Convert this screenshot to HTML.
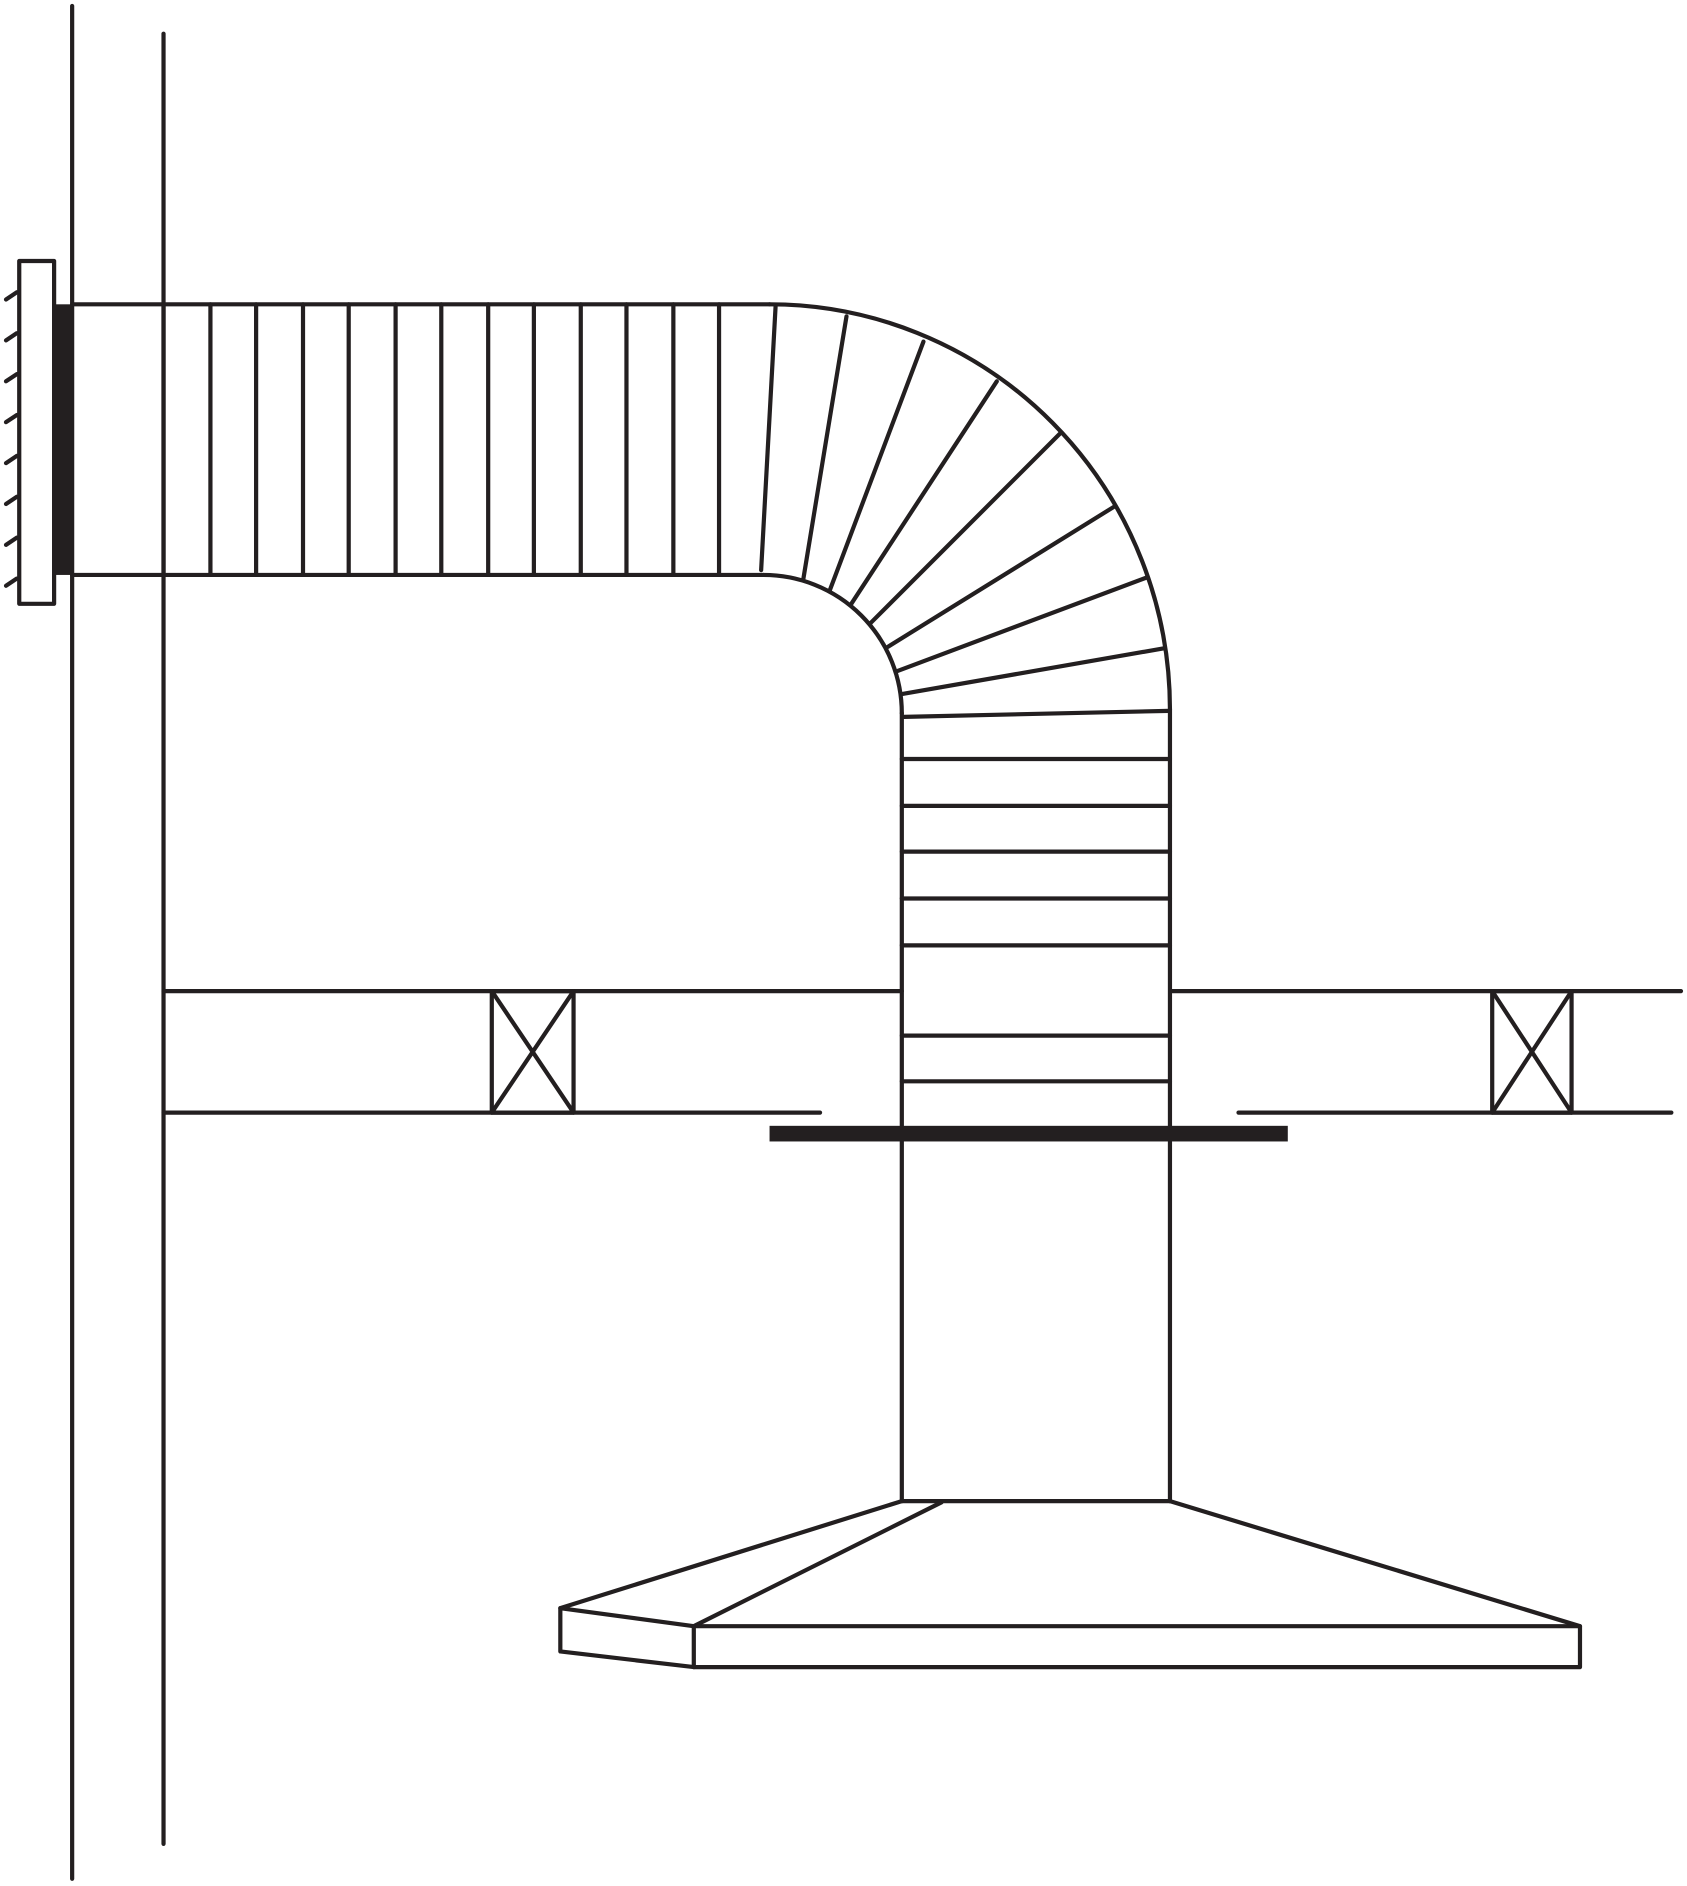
<!DOCTYPE html>
<html><head><meta charset="utf-8"><style>
html,body{margin:0;padding:0;background:#fff;}
svg{display:block;}
</style></head><body>
<svg width="1687" height="1886" viewBox="0 0 1403 1568" preserveAspectRatio="none" xmlns="http://www.w3.org/2000/svg">
<g stroke="#231f20" stroke-width="3.5" fill="none" stroke-linecap="round" stroke-linejoin="round">
<line x1="60" y1="5" x2="60" y2="1562"/>
<line x1="136" y1="28" x2="136" y2="1533"/>
<rect x="16" y="217" width="29" height="285" fill="#fff"/>
<path d="M5 249 L14 243 M5 283 L14 277 M5 317 L14 311 M5 351 L14 345 M5 385 L14 379 M5 419 L14 413 M5 453 L14 447 M5 487 L14 481"/>
<line x1="60" y1="253" x2="640" y2="253"/>
<line x1="60" y1="478" x2="635" y2="478"/>
<path d="M136 253V478 M175 253V478 M213 253V478 M252 253V478 M290 253V478 M329 253V478 M367 253V478 M406 253V478 M444 253V478 M483 253V478 M521 253V478 M560 253V478 M598 253V478"/>
<path d="M640 253 A333 337 0 0 1 973 590"/>
<path d="M635 478 A115 115 0 0 1 750 593"/>
<path d="M633 474L645 255 M668 482L704 263 M690 491L768 284 M708 502L829 317 M724 518L882 360 M738 538L927 421 M746 558L954 480 M750 577L968 539 M752 596L972 591"/>
<line x1="750" y1="593" x2="750" y2="1248"/>
<line x1="973" y1="590" x2="973" y2="1248"/>
<path d="M750 631H973 M750 670H973 M750 708H973 M750 747H973 M750 786H973 M750 861H973 M750 899H973"/>
<path d="M136 824H750 M975 824H1398 M136 925H682 M1030 925H1390"/>
<rect x="409" y="824" width="68" height="101"/>
<path d="M409 824L477 925 M477 824L409 925"/>
<rect x="1241" y="824" width="66" height="101"/>
<path d="M1241 824L1307 925 M1307 824L1241 925"/>
<line x1="750" y1="1248" x2="973" y2="1248"/>
<path d="M750 1248L466 1337 M783 1249L577 1352 M973 1248L1314 1352"/>
<rect x="577" y="1352" width="737" height="34"/>
<path d="M466 1337L577 1352 M466 1337V1373 M466 1373L577 1386"/>
</g>
<rect x="45" y="253" width="15" height="225" fill="#231f20"/>
<rect x="640" y="936" width="431" height="13" fill="#231f20"/>
</svg>
</body></html>
